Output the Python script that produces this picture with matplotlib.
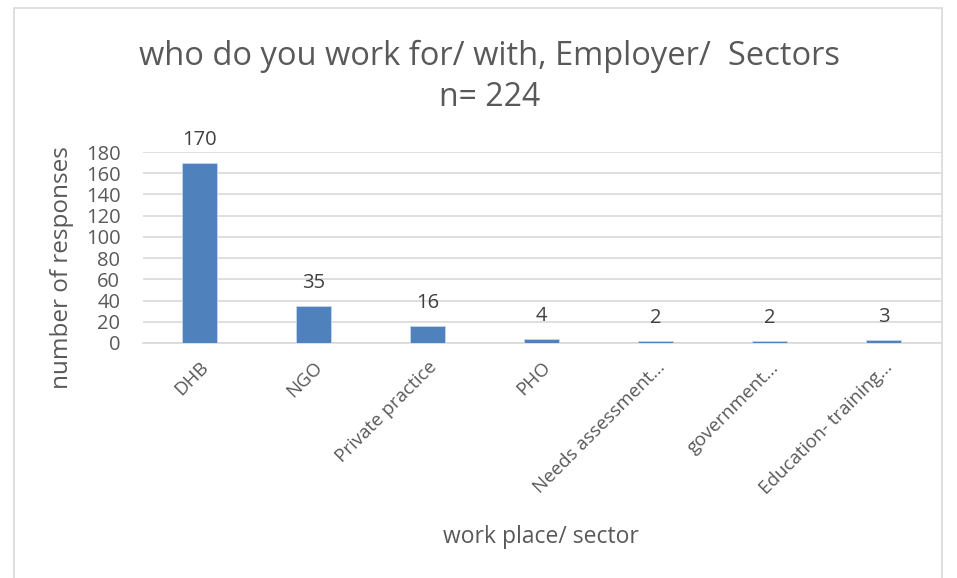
import matplotlib.pyplot as plt
from matplotlib.patches import Rectangle

categories = ["DHB", "NGO", "Private practice", "PHO", "Needs assessment...",
              "government...", "Education- training..."]
responses = [170, 35, 16, 4, 2, 2, 3]
y_ticks = [0, 20, 40, 60, 80, 100, 120, 140, 160, 180]

TEXT = "#595959"
plt.rcParams["font.family"] = ["Open Sans", "DejaVu Sans"]

fig = plt.figure(figsize=(9.57, 5.78), dpi=100)
ax = fig.add_axes([0.149, 0.4066, 0.834, 0.3304])

# chart border like the Excel chart area
fig.patches.append(Rectangle((14 / 957, -0.01), 928 / 957, 1 - 8 / 578 + 0.01,
                             transform=fig.transFigure, fill=False,
                             edgecolor="#d9d9d9", linewidth=1.2))

x = range(len(categories))
bars = ax.bar(x, responses, width=0.31, color="#4f81bd", edgecolor="#c6d6ea",
              linewidth=0.6, zorder=3)
for b, v in zip(bars, responses):
    ax.text(b.get_x() + b.get_width() / 2, v + 12, str(v), ha="center", va="bottom",
            fontsize=14.5, color="#404040", clip_on=False)

ax.set_xlim(-0.5, len(categories) - 0.5)
ax.set_ylim(0, 180)
ax.set_yticks(y_ticks)
ax.set_yticklabels([str(t) for t in y_ticks], fontsize=14.5, color=TEXT)
ax.set_xticks(list(x))
ax.set_xticklabels(categories, rotation=45, ha="right", rotation_mode="anchor",
                   fontsize=13.5, color=TEXT)
ax.tick_params(axis="y", length=0, pad=16)
ax.tick_params(axis="x", length=0, pad=11)
ax.grid(axis="y", color="#d9d9d9", linewidth=1.2, zorder=0)
for s in ["top", "right", "left"]:
    ax.spines[s].set_visible(False)
ax.spines["bottom"].set_color("#d9d9d9")
ax.spines["bottom"].set_linewidth(1.2)

fig.text(62 / 957, 1 - 268 / 578, "number of responses", rotation=90,
         ha="center", va="center", fontsize=17.5, color=TEXT)
fig.text(0.565, 1 - 537 / 578, "work place/ sector", ha="center", va="center",
         fontsize=16.5, color=TEXT)
fig.text(0.512, 1 - 56 / 578, "who do you work for/ with, Employer/  Sectors",
         ha="center", va="center", fontsize=23.5, color=TEXT)
fig.text(0.512, 1 - 98 / 578, "n= 224", ha="center", va="center",
         fontsize=23, color=TEXT)

fig.savefig("out.png", dpi=100, facecolor="white")
